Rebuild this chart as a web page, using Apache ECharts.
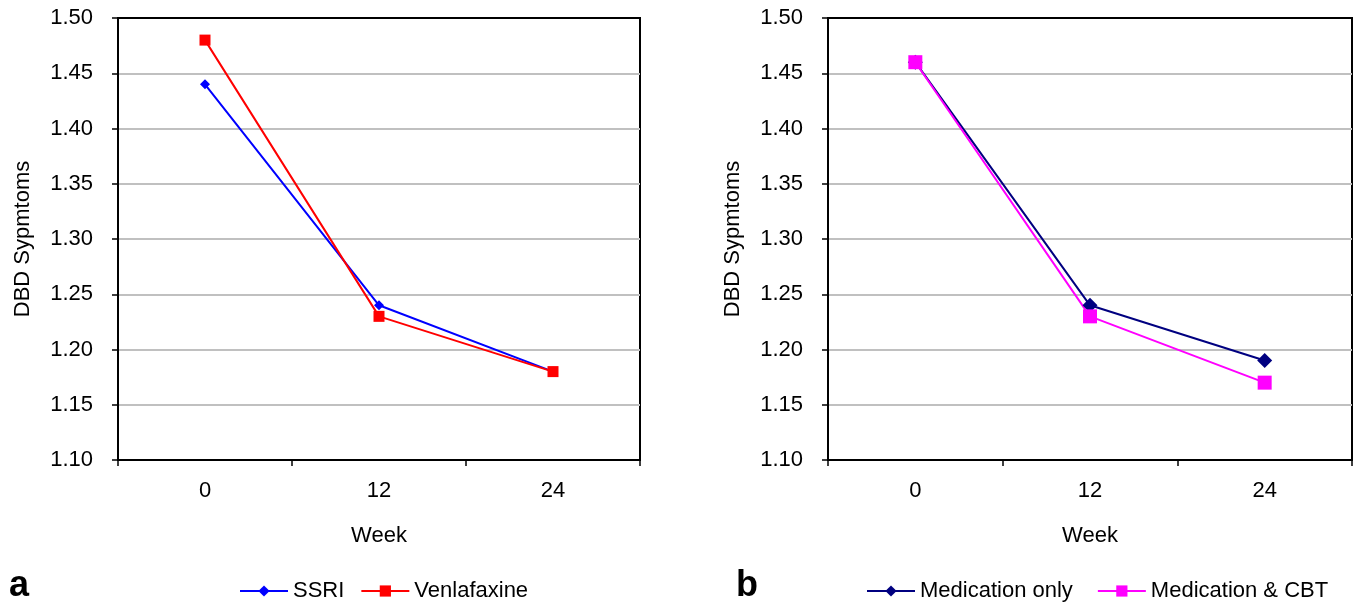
<!DOCTYPE html>
<html><head><meta charset="utf-8">
<script src="https://cdn.jsdelivr.net/npm/echarts@6/dist/echarts.min.js"></script>
<style>html,body{margin:0;padding:0;background:#fff}#c{width:1365px;height:603px}</style>
</head><body><div id="c"></div>
<script>
const weeks = ['0', '12', '24'];
const ssri = [1.44, 1.24, 1.18];
const venlafaxine = [1.48, 1.23, 1.18];
const medOnly = [1.46, 1.24, 1.19];
const medCBT = [1.46, 1.23, 1.17];
const yMin = 1.10, yMax = 1.50, yStep = 0.05;

const FONT = 'Liberation Sans, Arial, sans-serif';
const FS = 22;
const chart = echarts.init(document.getElementById('c'));

function xAxis(gi) {
  return {
    type: 'category', gridIndex: gi, data: weeks, boundaryGap: true,
    name: 'Week', nameLocation: 'middle', nameGap: 65,
    nameTextStyle: { fontSize: FS, color: '#000', fontFamily: FONT },
    axisLine: { lineStyle: { color: '#000', width: 2 } },
    axisTick: { show: true, alignWithLabel: false, length: 6, lineStyle: { color: '#000', width: 1.5 } },
    axisLabel: { fontSize: FS, color: '#000', fontFamily: FONT, margin: 20 },
    splitLine: { show: false }
  };
}
function yAxis(gi) {
  return {
    type: 'value', gridIndex: gi, min: yMin, max: yMax, interval: yStep,
    name: 'DBD Sypmtoms', nameLocation: 'middle', nameGap: 84,
    nameTextStyle: { fontSize: FS, color: '#000', fontFamily: FONT },
    axisLine: { show: true, lineStyle: { color: '#000', width: 2 } },
    axisTick: { show: true, length: 6, lineStyle: { color: '#000', width: 1.5 } },
    axisLabel: { fontSize: FS, color: '#000', fontFamily: FONT, margin: 25, formatter: v => v.toFixed(2) },
    splitLine: { show: true, showMinLine: false, showMaxLine: false, lineStyle: { color: '#c0c0c0', width: 2 } }
  };
}
function line(name, data, gi, color, symbol, size) {
  return {
    name, type: 'line', xAxisIndex: gi, yAxisIndex: gi, data,
    symbol, symbolSize: size, showSymbol: true,
    lineStyle: { color, width: 2 }, itemStyle: { color },
    animation: false
  };
}

chart.setOption({
  animation: false,
  title: [
    { text: 'a', left: 4, top: 563, textStyle: { fontSize: 36, fontWeight: 'bold', color: '#000', fontFamily: FONT } },
    { text: 'b', left: 731, top: 563, textStyle: { fontSize: 36, fontWeight: 'bold', color: '#000', fontFamily: FONT } }
  ],
  grid: [
    { left: 118, right: 725, top: 18, bottom: 143, show: true, borderColor: '#000', borderWidth: 2 },
    { left: 828, right: 13, top: 18, bottom: 143, show: true, borderColor: '#000', borderWidth: 2 }
  ],
  xAxis: [xAxis(0), xAxis(1)],
  yAxis: [yAxis(0), yAxis(1)],
  legend: [
    { data: ['SSRI', 'Venlafaxine'], left: 234, top: 575, itemWidth: 48, itemHeight: 14, itemGap: 16,
      textStyle: { fontSize: FS, color: '#000', fontFamily: FONT } },
    { data: ['Medication only', 'Medication & CBT'], left: 861, top: 575, itemWidth: 48, itemHeight: 14, itemGap: 24,
      textStyle: { fontSize: FS, color: '#000', fontFamily: FONT } }
  ],
  series: [
    line('SSRI', ssri, 0, '#0000ff', 'diamond', 10),
    line('Venlafaxine', venlafaxine, 0, '#ff0000', 'rect', 11),
    line('Medication only', medOnly, 1, '#000080', 'diamond', 15),
    line('Medication & CBT', medCBT, 1, '#ff00ff', 'rect', 14)
  ]
});
</script></body></html>
